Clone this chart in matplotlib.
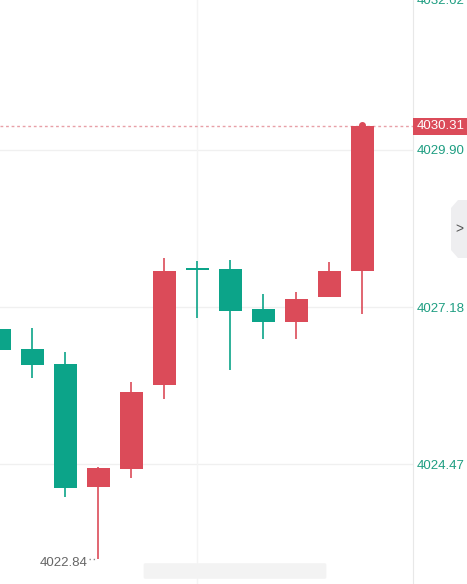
import matplotlib
matplotlib.use("Agg")
import matplotlib.pyplot as plt
from matplotlib.patches import Rectangle, Polygon, FancyBboxPatch

plt.rcParams['font.family'] = ['Liberation Sans', 'DejaVu Sans']

# candle data (red = up, green = down)
opens = [4026.80, 4026.46, 4026.20, 4024.07, 4024.38, 4025.83,
         4027.86, 4027.84, 4027.15, 4026.93, 4027.35, 4027.80]
highs = [4026.80, 4026.83, 4026.41, 4024.42, 4025.89, 4028.04,
         4027.98, 4027.99, 4027.41, 4027.44, 4027.97, 4030.33]
lows = [4026.45, 4025.96, 4023.91, 4022.84, 4024.24, 4025.60,
        4027.00, 4026.10, 4026.64, 4026.64, 4027.35, 4027.06]
closes = [4026.45, 4026.19, 4024.05, 4024.41, 4025.72, 4027.81,
          4027.82, 4027.12, 4026.92, 4027.33, 4027.81, 4030.31]

price_ticks = [4032.62, 4029.90, 4027.18, 4024.47]
last_price = 4030.31
low_label = "4022.84"

RED = "#db4b59"
GREEN = "#0ca489"
TICK_COLOR = "#1f9e82"


def main():
    W, H = 467, 584
    fig = plt.figure(figsize=(W / 100, H / 100), dpi=100)
    fig.patch.set_facecolor("white")
    ax = fig.add_axes([0, 0, 413 / W, 1])

    ymin, ymax = 4022.40, 4032.49
    ax.set_ylim(ymin, ymax)
    ax.set_xlim(0.021, 0.021 + 413 / 33)

    # grid
    for t in price_ticks:
        ax.axhline(t, color="#f0f0f0", lw=1, zorder=0)
    ax.axvline(6, color="#f4f4f4", lw=1, zorder=0)

    width = 0.70
    for i, (o, h, l, c) in enumerate(zip(opens, highs, lows, closes)):
        col = RED if c >= o else GREEN
        ax.vlines(i, l, h, color=col, lw=1.2, zorder=2)
        bottom = min(o, c)
        height = max(abs(c - o), 0.035)
        ax.add_patch(Rectangle((i - width / 2, bottom), width, height,
                               facecolor=col, edgecolor="none", zorder=3))

    # last price dashed line and dot
    ax.axhline(last_price, color="#e8a0a8", lw=1, ls=(0, (2, 2)), zorder=1)
    ax.plot([len(closes) - 1], [highs[-1]], "o", color=RED, ms=4, zorder=4)

    # low annotation
    low_i = lows.index(min(lows))
    ax.plot([low_i - 0.28, low_i - 0.03], [min(lows), min(lows)],
            ls=(0, (1, 2)), color="#888888", lw=1)
    ax.annotate(low_label, (low_i - 0.33, min(lows)), xytext=(0, -3),
                textcoords="offset points", color="#666666",
                fontsize=9.5, ha="right", va="center")

    ax.set_xticks([])
    ax.set_yticks([])
    for s in ["top", "left", "bottom"]:
        ax.spines[s].set_visible(False)
    ax.spines["right"].set_color("#e8e8e8")

    # price axis labels (top one clamped to the edge, as in the source chart)
    for t in price_ticks:
        yf = (t - ymin) / (ymax - ymin) - 1.5 / H
        yf = min(yf, 1 - 1 / H)
        fig.text(417 / W, yf, f"{t:.2f}", color=TICK_COLOR, fontsize=9.5,
                 ha="left", va="center")

    # last price tag
    yf = (last_price - ymin) / (ymax - ymin)
    fig.patches.append(Rectangle((413 / W, yf - 9 / H), 54 / W, 17 / H,
                                 transform=fig.transFigure, facecolor=RED,
                                 edgecolor="none"))
    fig.text(417 / W, yf, f"{last_price:.2f}", color="white", fontsize=9.5,
             ha="left", va="center")

    # side tab with arrow
    tab = [(458, 200), (467, 200), (467, 258), (458, 258), (451, 250), (451, 208)]
    fig.patches.append(Polygon([(x / W, 1 - y / H) for x, y in tab],
                               closed=True, transform=fig.transFigure,
                               facecolor="#eeeef0", edgecolor="none"))
    fig.text(459 / W, 1 - 229 / H, ">", color="#555555", fontsize=10,
             ha="center", va="center")

    # blurred watermark at bottom
    fig.patches.append(FancyBboxPatch((145 / W, 1 - 577 / H), 180 / W, 12 / H,
                                      boxstyle="round,pad=0.003",
                                      transform=fig.transFigure,
                                      facecolor="#f3f3f3", edgecolor="none"))

    fig.savefig("out.png", dpi=100)


if __name__ == '__main__':
    main()
